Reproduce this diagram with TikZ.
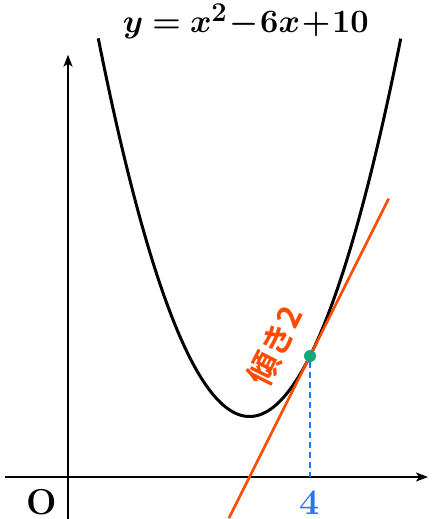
\documentclass[tikz,border=0pt]{standalone}
\usepackage{fontspec}
\usepackage{amsmath,bm}
\newfontfamily\jpfont{Noto Sans CJK JP}[BoldFont={* Bold}]
\usetikzlibrary{arrows.meta}
\definecolor{tanorange}{HTML}{FF4A00}
\definecolor{ptgreen}{HTML}{12A87A}
\definecolor{dashblue}{HTML}{2575F0}
\tikzset{
  axis/.style={line width=1.8pt,-{Stealth[length=12pt,width=9pt,inset=3pt]}},
  curve/.style={line width=3pt,black},
  tangent/.style={line width=2.6pt,tanorange},
  guide/.style={line width=1.7pt,dashblue,dash pattern=on 6pt off 4pt},
}
\begin{document}
\begin{tikzpicture}[x=60.5pt,y=60.5pt]
\useasboundingbox (-1.124,-0.694) rectangle (6.0,7.884);
\coordinate (xs) at (-1.04,0);
\coordinate (xe) at (5.95,0);
\coordinate (ys) at (0,-0.70);
\coordinate (ye) at (0,6.98);
\draw[axis] (xs) -- (xe);
\draw[axis] (ys) -- (ye);
\draw[curve] plot[domain=0.5:5.5,samples=120,smooth] (\x,{(\x-3)^2+1});
\coordinate (ta) at (2.66,-0.68);
\coordinate (tb) at (5.3,4.6);
\draw[tangent] (ta) -- (tb);
\coordinate (foot) at (4,0);
\node[circle,fill=ptgreen,inner sep=0pt,minimum size=12pt] (P) at (4,2) {};
\draw[guide] (P) -- (foot);
\node[scale=1.31] (title) at (2.94,7.53) {\fontsize{24.88}{28}\selectfont $\bm{y=x^2\!-\!6x\!+\!10}$};
\node (O) at (-0.43,-0.41) {\fontsize{36}{38}\selectfont\bfseries O};
\node[text=dashblue] (four) at (4,-0.42) {\fontsize{36}{38}\selectfont\bfseries 4};
\node[text=tanorange,rotate=63.4] (lab) at (3.42,2.17) {\jpfont\bfseries\fontsize{32}{34}\selectfont 傾き2};
\end{tikzpicture}
\end{document}
